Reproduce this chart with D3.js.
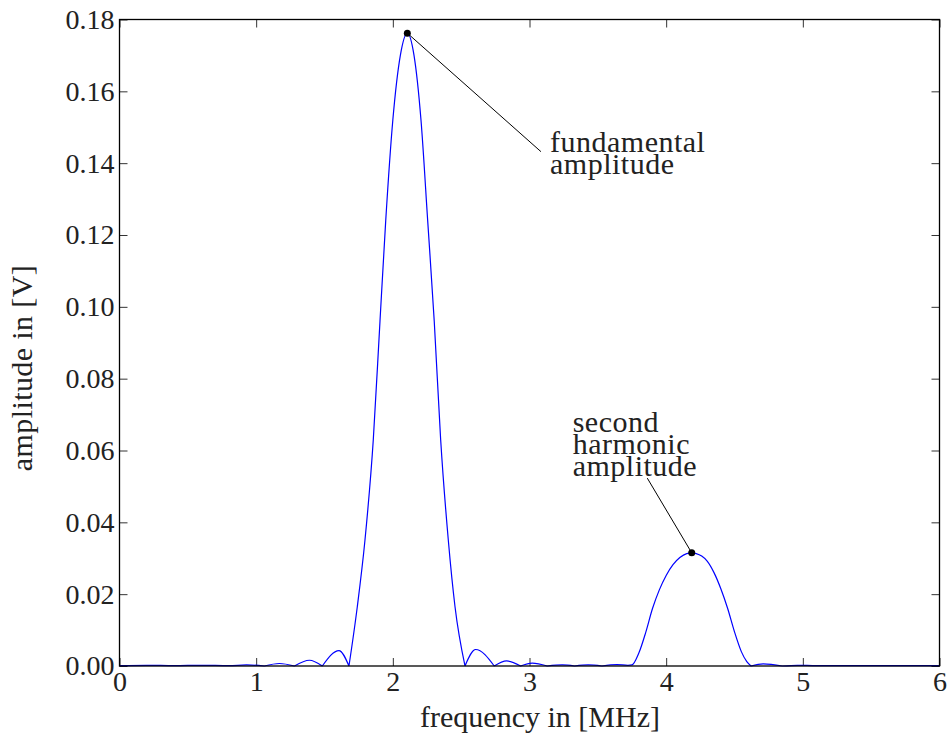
<!DOCTYPE html>
<html>
<head>
<meta charset="utf-8">
<script src="https://cdn.jsdelivr.net/npm/d3@7"></script>
<style>
  html, body { margin: 0; padding: 0; background: #fff; }
</style>
</head>
<body>
<div id="chart"></div>
<script>
// spectrum: frequency [MHz] / amplitude [V]
const freqMHz = [
  0.00, 0.20, 0.40, 0.60, 0.80, 0.93, 1.06,
  1.17, 1.28, 1.39, 1.484, 1.606, 1.679,
  1.740, 1.796, 1.857, 1.906, 1.948, 2.000, 2.055, 2.106, 2.155, 2.206, 2.255, 2.303, 2.350, 2.406, 2.455, 2.528,
  2.606, 2.742, 2.833, 2.935, 3.02, 3.13, 3.24, 3.33, 3.43, 3.53, 3.64, 3.72,
  3.75, 3.80, 3.85, 3.90, 3.95, 4.00, 4.05, 4.10, 4.15, 4.187, 4.22, 4.26, 4.30, 4.35, 4.40, 4.45, 4.50, 4.55, 4.59, 4.621,
  4.71, 4.85, 4.96, 5.10, 5.40, 5.70, 6.00
]
const amplitudeV = [
  0.0001, 0.0002, 0.0001, 0.0002, 0.0001, 0.0003, 0,
  0.0007, 0, 0.0016, 0, 0.0043, 0,
  0.0165, 0.035, 0.063, 0.096, 0.124, 0.152, 0.170, 0.1762, 0.170, 0.152, 0.124, 0.096, 0.063, 0.035, 0.0165, 0,
  0.0046, 0, 0.0014, 0, 0.0008, 0, 0.0003, 0, 0.0003, 0, 0.0004, 0.0002,
  0.0003, 0.0036, 0.0093, 0.0160, 0.0212, 0.0252, 0.0282, 0.0302, 0.0313, 0.0315, 0.0313, 0.0306, 0.0292, 0.0260, 0.0215, 0.0160, 0.0095, 0.0040, 0.0012, 0,
  0.0006, 0, 0.0002, 0.0001, 0.0001, 0.0001, 0.0001
]

const xTicks = [0, 1, 2, 3, 4, 5, 6]
const yTicks = [0, 0.02, 0.04, 0.06, 0.08, 0.10, 0.12, 0.14, 0.16, 0.18]

// annotated points
const markFreq = [2.106, 4.187]
const markAmp = [0.1762, 0.0315]
const markLabels = [['fundamental', 'amplitude'], ['second', 'harmonic', 'amplitude']]

const width = 951,
  height = 747
const plotLeft = 119.5, plotRight = 939.5, plotTop = 19.5, plotBottom = 666
const serif = '"Liberation Serif"'

let svg = d3.select('#chart')
  .append('svg')
  .attr('width', width)
  .attr('height', height)

let x = d3.scaleLinear().domain([0, 6]).range([plotLeft, plotRight])
let y = d3.scaleLinear().domain([0, 0.18]).range([plotBottom, plotTop])

// ticks on all four sides, pointing inward
let tickStyle = (g) => {
  g.attr('font-family', null)
  g.select('.domain').remove()
  g.selectAll('.tick line').attr('stroke', '#333').attr('stroke-width', 1)
  g.selectAll('.tick text')
    .style('font-family', serif)
    .style('font-size', '28px')
    .attr('fill', '#222')
}

svg.append('g')
  .attr('transform', `translate(0,${plotBottom})`)
  .call(d3.axisBottom(x).tickValues(xTicks).tickFormat(d3.format('d')).tickSizeInner(-8).tickSizeOuter(0).tickPadding(5))
  .call(tickStyle)

svg.append('g')
  .attr('transform', `translate(0,${plotTop})`)
  .call(d3.axisTop(x).tickValues(xTicks).tickFormat('').tickSizeInner(-8).tickSizeOuter(0))
  .call(tickStyle)

svg.append('g')
  .attr('transform', `translate(${plotLeft},0)`)
  .call(d3.axisLeft(y).tickValues(yTicks).tickFormat(d3.format('.2f')).tickSizeInner(-8).tickSizeOuter(0).tickPadding(5))
  .call(tickStyle)

svg.append('g')
  .attr('transform', `translate(${plotRight},0)`)
  .call(d3.axisRight(y).tickValues(yTicks).tickFormat('').tickSizeInner(-8).tickSizeOuter(0))
  .call(tickStyle)

// the spectrum: split at the zeros so the cusps stay sharp
let points = freqMHz.map((f, i) => [f, amplitudeV[i]])
let segments = [[]]
points.forEach((p, i) => {
  segments[segments.length - 1].push(p)
  if (p[1] === 0 && i > 0 && i < points.length - 1) segments.push([p])
})

let line = d3.line()
  .x(d => x(d[0]))
  .y(d => y(d[1]))
  .curve(d3.curveMonotoneX)

svg.append('path')
  .attr('d', segments.map(s => line(s)).join(''))
  .attr('fill', 'none')
  .attr('stroke', '#0000ff')
  .attr('stroke-width', 1.2)

// annotations (label anchor and line end in data coordinates)
const labelPos = [[3.15, 0.1430], [3.316, 0.0652]]
const lineEnd = [[3.084, 0.1432], [3.862, 0.0523]]
const lineGap = [21.5, 22.2]

markFreq.forEach((f, i) => {
  svg.append('line')
    .attr('x1', x(f)).attr('y1', y(markAmp[i]))
    .attr('x2', x(lineEnd[i][0])).attr('y2', y(lineEnd[i][1]))
    .attr('stroke', '#000')
    .attr('stroke-width', 1)
  svg.append('circle')
    .attr('cx', x(f)).attr('cy', y(markAmp[i]))
    .attr('r', 3.5)
    .attr('fill', '#000')
  markLabels[i].forEach((s, j) => {
    svg.append('text')
      .attr('x', x(labelPos[i][0]))
      .attr('y', y(labelPos[i][1]) + j * lineGap[i])
      .style('font-family', serif)
      .style('font-size', '30px')
      .style('letter-spacing', '0.5px')
      .attr('fill', '#222')
      .text(s)
  })
})

// frame
svg.append('rect')
  .attr('x', plotLeft).attr('y', plotTop)
  .attr('width', plotRight - plotLeft).attr('height', plotBottom - plotTop)
  .attr('fill', 'none')
  .attr('stroke', '#000')
  .attr('stroke-width', 1.3)

// axis titles
svg.append('text')
  .attr('x', 540).attr('y', 727)
  .attr('text-anchor', 'middle')
  .style('font-family', serif)
  .style('font-size', '30px')
  .attr('fill', '#222')
  .text('frequency in [MHz]')

svg.append('text')
  .attr('transform', 'translate(32,368) rotate(-90)')
  .attr('text-anchor', 'middle')
  .style('font-family', serif)
  .style('font-size', '30px')
  .style('letter-spacing', '0.4px')
  .attr('fill', '#222')
  .text('amplitude in [V]')
</script>
</body>
</html>
